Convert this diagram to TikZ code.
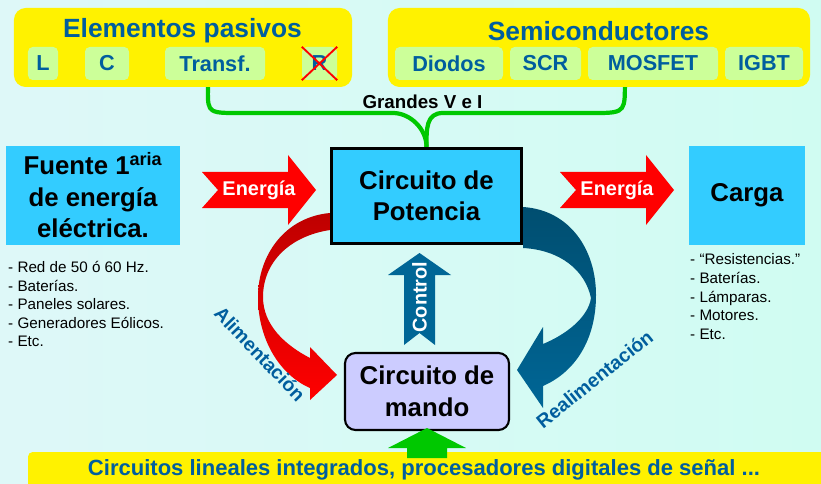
\documentclass[tikz,border=0pt]{standalone}
\usepackage{fontspec}
\setmainfont{Liberation Sans}
\usetikzlibrary{calc}

\definecolor{textblue}{RGB}{0,94,158}
\definecolor{boxcyan}{RGB}{51,204,255}
\definecolor{chipgreen}{RGB}{204,255,153}
\definecolor{mandolila}{RGB}{204,204,255}
\definecolor{darkred}{RGB}{190,0,0}
\definecolor{arrowblue}{RGB}{0,102,150}
\definecolor{darkblue}{RGB}{0,78,112}
\definecolor{linkgreen}{RGB}{0,200,0}
\definecolor{bgleft}{RGB}{222,248,248}
\definecolor{bgmid}{RGB}{245,253,250}
\definecolor{bgright}{RGB}{208,252,242}

\pgfdeclarelayer{bg}
\pgfdeclarelayer{back}
\pgfsetlayers{bg,back,main}

\begin{document}
\begin{tikzpicture}[
    x=0.03cm, y=-0.03cm,
    panel/.style={fill=yellow, rounded corners=10pt, minimum height=2.37cm},
    chip/.style={fill=chipgreen, rounded corners=4pt, minimum height=0.99cm,
                 text=textblue, font=\bfseries\fontsize{18.5}{20}\selectfont},
    heading/.style={text=textblue, font=\bfseries\fontsize{22.5}{25}\selectfont},
    bigbox/.style={fill=boxcyan, minimum height=2.97cm, align=center,
                   font=\bfseries\fontsize{22}{27}\selectfont},
    item/.style={anchor=base west, inner sep=0pt, font=\fontsize{13}{15}\selectfont},
    flow/.style={text=white, font=\bfseries\fontsize{17}{20}\selectfont},
    side/.style={text=textblue, font=\bfseries\fontsize{16.5}{20}\selectfont},
    link/.style={linkgreen, line width=3.6pt},
  ]
  \useasboundingbox (0,0) rectangle (821,484);
  \begin{pgfonlayer}{bg}
    \fill[left color=bgleft, middle color=bgmid, right color=bgright] (0,0) rectangle (821,484);
  \end{pgfonlayer}

  % elementos pasivos
  \node[panel, minimum width=10.14cm] (pasivos) at (183,47.5) {};
  \node[heading] (pasivos title) at (182.5,31) {Elementos pasivos};
  \node[chip, minimum width=0.9cm]  (l) at (43,63.5) {L};
  \node[chip, minimum width=1.32cm] (c) at (107,63.5) {C};
  \node[chip, minimum width=3cm]    (transf) at (215,63.5) {Transf.};
  \node[chip, minimum width=1.05cm] (r) at (319.5,63.5) {R};
  \draw[red, line width=1.6pt] (r.north west) -- (r.south east)
                               (r.south west) -- (r.north east);

  % semiconductores
  \node[panel, minimum width=12.66cm] (semis) at (599,47.5) {};
  \node[heading] (semis title) at (598.5,31) {Semiconductores};
  \node[chip, minimum width=3.24cm] (diodos) at (449,63.5) {Diodos};
  \node[chip, minimum width=2.13cm] (scr) at (545.5,63.5) {SCR};
  \node[chip, minimum width=3.9cm]  (mosfet) at (653,63.5) {MOSFET};
  \node[chip, minimum width=2.34cm] (igbt) at (764,63.5) {IGBT};

  % bandas curvas
  \shade[top color=darkred, bottom color=red]
    (330,213) .. controls (285,217) and (258,255) .. (258,297)
    .. controls (258,340) and (280,375) .. (310,388) -- (310,400) -- (337,375)
    -- (310,347) -- (310,358) .. controls (285,345) and (263,325) .. (263,297)
    .. controls (263,262) and (290,236) .. (330,230) -- cycle;
  \shade[top color=darkblue, bottom color=arrowblue]
    (523,207) .. controls (570,210) and (596,250) .. (596,295)
    .. controls (596,340) and (575,372) .. (543,386) -- (543,408) -- (517,370)
    -- (543,327) -- (543,344) .. controls (565,335) and (588,318) .. (591,298)
    .. controls (585,270) and (560,250) .. (523,248) -- cycle;

  % bloques
  \node[bigbox, minimum width=5.22cm] (fuente) at (93,195.5)
    {Fuente 1\textsuperscript{aria}\\de energía\\eléctrica.};
  \node[bigbox, draw, line width=2.4pt, minimum width=5.72cm, minimum height=2.87cm,
        font=\bfseries\fontsize{22}{26.5}\selectfont] (potencia) at (426.5,196)
    {Circuito de\\Potencia};
  \node[bigbox, minimum width=3.48cm] (carga) at (747,195.5) {Carga};
  \node[draw, line width=1.8pt, fill=mandolila, rounded corners=9pt, align=center,
        minimum width=4.92cm, minimum height=2.31cm,
        font=\bfseries\fontsize{22}{27}\selectfont] (mando) at (427,391.5)
    {Circuito de\\mando};

  % conexiones verdes
  \coordinate (vi) at (418,113);
  \node[font=\bfseries\fontsize{16}{18}\selectfont] (vi label) at (422.5,102) {Grandes V e I};
  \begin{pgfonlayer}{back}
    \draw[link] ([xshift=-6pt]transf.south) .. controls +(0,30) and +(-28,0) .. ($(vi)+(-185,0)$)
      -- ($(vi)+(-25,0)$) .. controls +(17,0) and +(0,-18) .. (potencia.north);
    \draw[link] ([xshift=-24pt]mosfet.south) .. controls +(0,30) and +(28,0) .. ($(vi)+(180,0)$)
      -- ($(vi)+(25,0)$) .. controls +(-17,0) and +(0,-18) .. (potencia.north);
  \end{pgfonlayer}

  % flechas de energia
  \foreach \x/\n in {202/energia1, 560/energia2} {
    \fill[red] (\x,172) -- ++(86,0) -- ++(0,-17) -- ++(28,35) -- ++(-28,35)
      -- ++(0,-17) -- ++(-86,0) -- ++(16,-18) -- cycle;
    \node[flow] (\n) at (\x+57,190) {Energía};
  }

  % control
  \fill[arrowblue] (404,345) -- (404,275) -- (388,275) -- (419.5,253) -- (451,275)
    -- (435,275) -- (435,345) -- (419.5,333) -- cycle;
  \node[flow, rotate=90] (control) at (419.5,297) {Control};

  \node[side, rotate=-46.3] (alim) at (260,354) {Alimentación};
  \node[side, rotate=38.7] (realim) at (594.5,379) {Realimentación};

  % listas
  \foreach \t [count=\i] in {- Red de 50 ó 60 Hz., - Baterías., - Paneles solares.,
                             - Generadores Eólicos., - Etc.}
    \node[item] (fuente item\i) at (8,253.9+18.6*\i) {\t};
  \foreach \t [count=\i] in {- “Resistencias.”, - Baterías., - Lámparas., - Motores., - Etc.}
    \node[item] (carga item\i) at (690,245.7+18.8*\i) {\t};

  % barra inferior
  \fill[yellow, rounded corners=4pt] (28,452) rectangle (840,500);
  \node[text=textblue, font=\bfseries\fontsize{18.8}{20}\selectfont] (integrados) at (424,470)
    {Circuitos lineales integrados, procesadores digitales de señal ...};
  \fill[linkgreen] (407,458) -- (407,448) -- (388,448) -- (427,428) -- (466,448)
    -- (447,448) -- (447,458) -- cycle;
\end{tikzpicture}
\end{document}
